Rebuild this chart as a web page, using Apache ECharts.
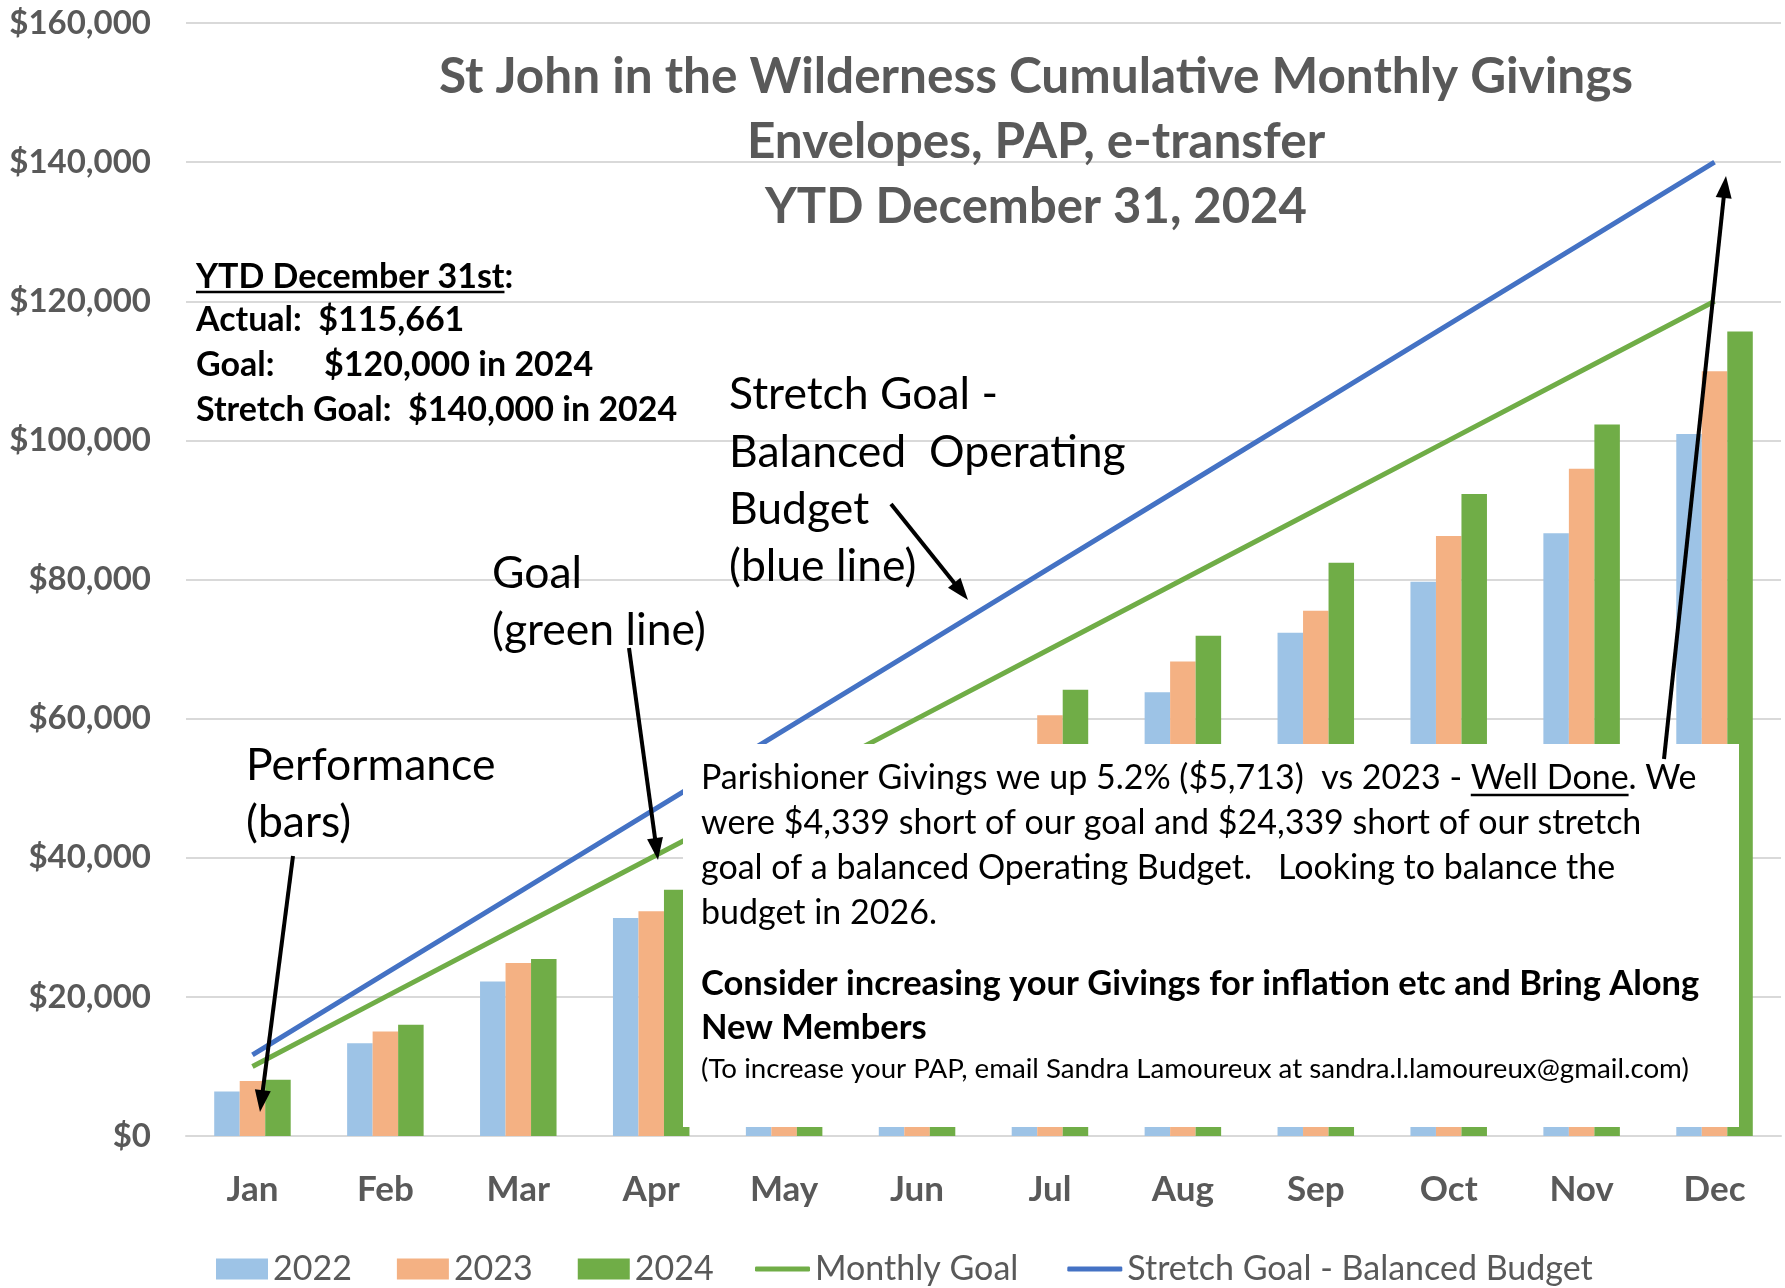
<!DOCTYPE html>
<html>
<head>
<meta charset="utf-8">
<script src="https://cdn.jsdelivr.net/npm/echarts@6/dist/echarts.min.js"></script>
<style>
html,body{margin:0;padding:0;background:#fff;}
#chart{width:1785px;height:1288px;}
</style>
</head>
<body>
<div id="chart"></div>
<script>
// ---- data ----
var months = ['Jan','Feb','Mar','Apr','May','Jun','Jul','Aug','Sep','Oct','Nov','Dec'];
var givings2022 = [6411, 13349, 22201, 31340, 39500, 47000, 55000, 63780, 72344, 79665, 86651, 100909];
var givings2023 = [7895, 15024, 24880, 32297, 41000, 50500, 60479, 68230, 75502, 86268, 95933, 109948];
var givings2024 = [8086, 15981, 25455, 35407, 45000, 54500, 64163, 71914, 82392, 92297, 102297, 115661];
var monthlyGoal = [10000, 20000, 30000, 40000, 50000, 60000, 70000, 80000, 90000, 100000, 110000, 120000];
var stretchGoal = [11667, 23333, 35000, 46667, 58333, 70000, 81667, 93333, 105000, 116667, 128333, 140000];
var yTicks = {min: 0, max: 160000, interval: 20000};

var FONT = 'Lato, "Open Sans", sans-serif';
var GRAY = '#595959';

var measureCtx = document.createElement('canvas').getContext('2d');
function textW(txt, size, weight) {
  measureCtx.font = (weight || 'normal') + ' ' + size + 'px ' + FONT;
  return measureCtx.measureText(txt).width;
}

function txt(t, x, y, size, weight, color, align) {
  return {
    type: 'text', z: 110,
    style: {
      text: t, x: x, y: y, fill: color || '#000',
      fontSize: size, fontWeight: weight || 'normal', fontFamily: FONT,
      textAlign: align || 'left', textVerticalAlign: 'middle',
      align: align || 'left', verticalAlign: 'middle'
    }
  };
}
function uline(x1, x2, y, w) {
  return {type: 'line', z: 110, shape: {x1: x1, y1: y, x2: x2, y2: y},
          style: {stroke: '#000', lineWidth: w || 2}};
}
function arrow(x1, y1, x2, y2) {
  var dx = x2 - x1, dy = y2 - y1, L = Math.sqrt(dx*dx + dy*dy);
  var ux = dx / L, uy = dy / L, hl = 22, hw = 8;
  var bx = x2 - ux*hl, by = y2 - uy*hl;
  return [
    {type: 'line', z: 120, shape: {x1: x1, y1: y1, x2: bx + ux*2, y2: by + uy*2},
     style: {stroke: '#000', lineWidth: 4}},
    {type: 'polygon', z: 120, shape: {points: [[x2, y2], [bx - uy*hw, by + ux*hw], [bx + uy*hw, by - ux*hw]]},
     style: {fill: '#000'}}
  ];
}

var graphics = [];
// title
graphics.push(txt('St John in the Wilderness Cumulative Monthly Givings', 1036, 77, 49.5, 'bold', GRAY, 'center'));
graphics.push(txt('Envelopes, PAP, e-transfer', 1036, 142, 49.5, 'bold', GRAY, 'center'));
graphics.push(txt('YTD December 31, 2024', 1036, 207, 49, 'bold', GRAY, 'center'));
// summary text
var SF = 34;
graphics.push(txt('YTD December 31st:', 196, 277, SF, 'bold', '#000'));
graphics.push(uline(196, 196 + textW('YTD December 31st', SF, 'bold'), 292, 2.5));
graphics.push(txt('Actual:  $115,661', 196, 320, SF, 'bold', '#000'));
graphics.push(txt('Goal:      $120,000 in 2024', 196, 365, SF, 'bold', '#000'));
graphics.push(txt('Stretch Goal:  $140,000 in 2024', 196, 410, SF, 'bold', '#000'));
// annotations
var AF = 44.5;
graphics.push(txt('Stretch Goal -', 729, 395, AF, 'normal', '#000'));
graphics.push(txt('Balanced  Operating', 729, 453, AF, 'normal', '#000'));
graphics.push(txt('Budget', 729, 510, AF, 'normal', '#000'));
graphics.push(txt('(blue line)', 729, 567, AF, 'normal', '#000'));
graphics.push(txt('Goal', 492, 574, AF, 'normal', '#000'));
graphics.push(txt('(green line)', 492, 631, AF, 'normal', '#000'));
graphics.push(txt('Performance', 246, 766, AF, 'normal', '#000'));
graphics.push(txt('(bars)', 246, 823, AF, 'normal', '#000'));
// white message box
graphics.push({type: 'rect', z: 105, shape: {x: 683, y: 744, width: 1056, height: 383}, style: {fill: '#fff'}});
var BF = 34;
var l1a = 'Parishioner Givings we up 5.2% ($5,713)  vs 2023 - ';
var l1b = 'Well Done';
graphics.push(txt(l1a + l1b + '. We', 701, 778, BF, 'normal', '#000'));
var ux1 = 701 + textW(l1a, BF, 'normal');
graphics.push(uline(ux1, ux1 + textW(l1b, BF, 'normal'), 795, 2.5));
graphics.push(txt('were $4,339 short of our goal and $24,339 short of our stretch', 701, 823, BF, 'normal', '#000'));
graphics.push(txt('goal of a balanced Operating Budget.   Looking to balance the', 701, 868, BF, 'normal', '#000'));
graphics.push(txt('budget in 2026.', 701, 913, BF, 'normal', '#000'));
graphics.push(txt('Consider increasing your Givings for inflation etc and Bring Along', 701, 984, 34.5, 'bold', '#000'));
graphics.push(txt('New Members', 701, 1028, 34.5, 'bold', '#000'));
graphics.push(txt('(To increase your PAP, email Sandra Lamoureux at sandra.l.lamoureux@gmail.com)', 701, 1069, 27.7, 'normal', '#000'));
// arrows
graphics = graphics.concat(arrow(293, 856, 260, 1112));
graphics = graphics.concat(arrow(629, 648, 658, 860));
graphics = graphics.concat(arrow(891, 504, 968, 600));
graphics = graphics.concat(arrow(1664, 759, 1726, 176));

var chart = echarts.init(document.getElementById('chart'), null, {renderer: 'canvas'});
var barCommon = {type: 'bar', barWidth: 25.5, barGap: '0%'};
var legendText = {fontSize: 34, color: GRAY, fontFamily: FONT};
chart.setOption({
  animation: false,
  backgroundColor: '#fff',
  textStyle: {fontFamily: FONT},
  grid: {left: 186, right: 4, top: 23, bottom: 152, containLabel: false},
  legend: [
    {
      left: 216, top: 1252, padding: 0, itemGap: 45, itemWidth: 52, itemHeight: 21,
      textStyle: legendText,
      data: [{name: '2022', icon: 'rect'}, {name: '2023', icon: 'rect'}, {name: '2024', icon: 'rect'}]
    },
    {
      left: 755, top: 1252, padding: 0, itemGap: 49, itemWidth: 55, itemHeight: 5,
      textStyle: legendText,
      data: [{name: 'Monthly Goal', icon: 'roundRect'}, {name: 'Stretch Goal - Balanced Budget', icon: 'roundRect'}]
    }
  ],
  xAxis: {
    type: 'category', data: months, boundaryGap: true,
    axisTick: {show: false},
    axisLine: {lineStyle: {color: '#D9D9D9', width: 2}},
    axisLabel: {margin: 36, fontSize: 35, fontWeight: 'bold', color: GRAY, fontFamily: FONT}
  },
  yAxis: {
    type: 'value', min: yTicks.min, max: yTicks.max, interval: yTicks.interval,
    axisLine: {show: false}, axisTick: {show: false},
    splitLine: {lineStyle: {color: '#D9D9D9', width: 2}},
    axisLabel: {margin: 35, fontSize: 33, fontWeight: 'bold', color: GRAY, fontFamily: FONT,
      formatter: function (v) { return '$' + v.toLocaleString('en-US'); }}
  },
  series: [
    Object.assign({name: '2022', data: givings2022, itemStyle: {color: '#9DC3E6'}}, barCommon),
    Object.assign({name: '2023', data: givings2023, itemStyle: {color: '#F4B183'}}, barCommon),
    Object.assign({name: '2024', data: givings2024, itemStyle: {color: '#70AD47'}}, barCommon),
    {name: 'Monthly Goal', type: 'line', data: monthlyGoal, symbol: 'none',
     lineStyle: {color: '#70AD47', width: 5}, itemStyle: {color: '#70AD47'}, z: 3},
    {name: 'Stretch Goal - Balanced Budget', type: 'line', data: stretchGoal, symbol: 'none',
     lineStyle: {color: '#4472C4', width: 5}, itemStyle: {color: '#4472C4'}, z: 3}
  ],
  graphic: {elements: graphics}
});
</script>
</body>
</html>
